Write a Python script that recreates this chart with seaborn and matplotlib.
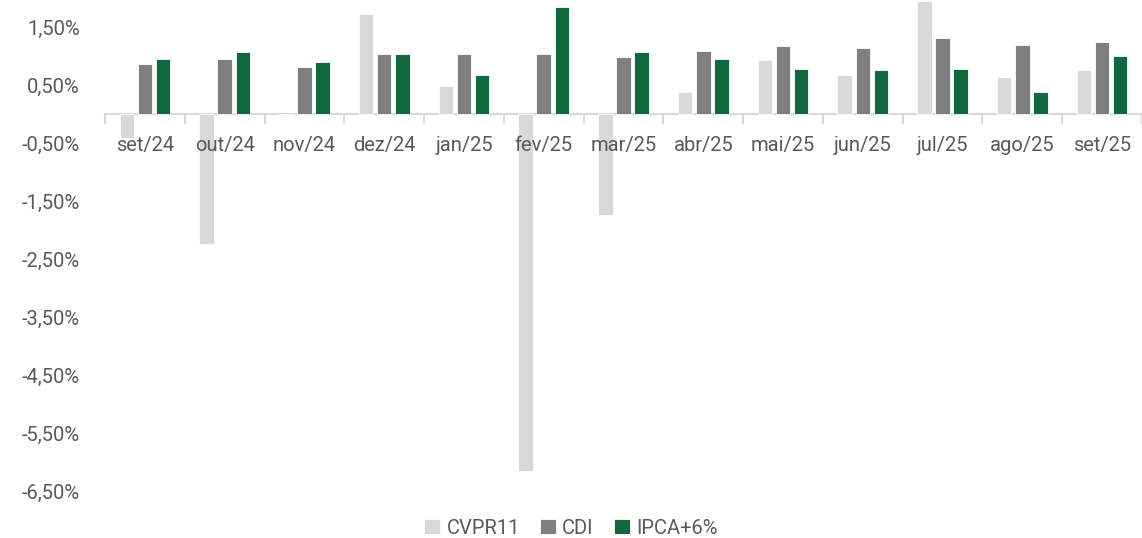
import pandas as pd
import seaborn as sns
import matplotlib.pyplot as plt
from matplotlib.ticker import FuncFormatter, FixedLocator

# dados (% ao mês)
meses = ['set/24', 'out/24', 'nov/24', 'dez/24', 'jan/25', 'fev/25', 'mar/25',
         'abr/25', 'mai/25', 'jun/25', 'jul/25', 'ago/25', 'set/25']
cvpr11 = [-0.41, -2.24, -0.02, 1.72, 0.49, -6.15, -1.74, 0.38, 0.94, 0.67, 1.96, 0.64, 0.76]
cdi = [0.87, 0.96, 0.82, 1.04, 1.04, 1.03, 0.99, 1.09, 1.17, 1.14, 1.32, 1.20, 1.25]
ipca6 = [0.96, 1.08, 0.90, 1.04, 0.67, 1.85, 1.08, 0.95, 0.78, 0.76, 0.78, 0.39, 1.00]

series = ['CVPR11', 'CDI', 'IPCA+6%']
cores = ['#D9D9D9', '#7F7F7F', '#00773F']

df = pd.DataFrame({'mes': meses, 'CVPR11': cvpr11, 'CDI': cdi, 'IPCA+6%': ipca6})
df = df.melt(id_vars='mes', var_name='serie', value_name='valor')

sns.set_style('white')
plt.rcParams['font.family'] = ['Roboto', 'DejaVu Sans']
cinza = '#595959'
fs = 14.5

fig = plt.figure(figsize=(11.42, 5.38), dpi=100)
ax = fig.add_axes([105 / 1142, 1 - 491 / 538, 1 - 105 / 1142, 491 / 538])

sns.barplot(data=df, x='mes', y='valor', hue='serie', hue_order=series,
            palette=cores, width=0.68, gap=0.2, ax=ax, legend=True,
            edgecolor='white', linewidth=0.6)

ax.set_xlim(-0.5, len(meses) - 0.5)
ax.set_ylim(-6.5, 1.97)
ax.yaxis.set_major_locator(FixedLocator([1.5, 0.5, -0.5, -1.5, -2.5, -3.5, -4.5, -5.5, -6.5]))
ax.yaxis.set_major_formatter(FuncFormatter(lambda v, p: f'{v:.2f}%'.replace('.', ',')))

for s in ['top', 'right', 'left']:
    ax.spines[s].set_visible(False)
ax.spines['bottom'].set_position(('data', 0))
ax.spines['bottom'].set_color('#D9D9D9')
ax.spines['bottom'].set_linewidth(1.5)
ax.spines['bottom'].set_zorder(0)

ax.set_xticks([i - 0.5 for i in range(len(meses) + 1)], minor=True)
ax.tick_params(axis='x', which='minor', bottom=True, length=7, width=1.5,
               color='#D9D9D9', direction='out')
ax.tick_params(axis='x', which='major', length=0, pad=16, labelsize=fs, labelcolor=cinza)
ax.tick_params(axis='y', length=0, pad=18, labelsize=fs, labelcolor=cinza)
ax.xaxis.set_zorder(5)
ax.set_xlabel('')
ax.set_ylabel('')

handles, labels = ax.get_legend_handles_labels()
ax.legend(handles, labels, loc='center', bbox_to_anchor=(0.5, 1 - 528 / 538),
          bbox_transform=fig.transFigure, ncol=3, frameon=False,
          handlelength=0.8, handleheight=0.8, handletextpad=0.3, columnspacing=1.0,
          fontsize=fs, labelcolor=cinza)

plt.savefig('out.png', dpi=100)
